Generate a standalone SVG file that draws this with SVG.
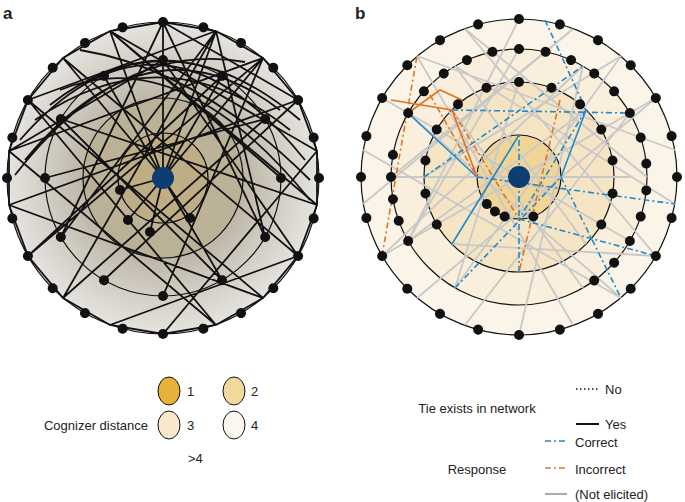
<svg xmlns="http://www.w3.org/2000/svg" width="685" height="502" viewBox="0 0 685 502">
<style>
text{font-family:"Liberation Sans",Arial,sans-serif;font-size:13px;fill:#222}
.lab{font-weight:bold;font-size:17px}
.ring{stroke:#111;stroke-width:1.2}
path,line{fill:none}
.ea{stroke:#111;stroke-width:1.8}
.g{stroke:#c8c8c8;stroke-width:1.8}
.bd{stroke:#1f8ac9;stroke-width:1.6;stroke-dasharray:6 3 2 3}
.od{stroke:#e2721f;stroke-width:1.6;stroke-dasharray:6 3 2 3}
.bs{stroke:#1f8ac9;stroke-width:1.6}
.os{stroke:#e2721f;stroke-width:1.6}
.d{fill:#111}
</style>
<defs>
<radialGradient id="ga" cx="50%" cy="50%" r="50%">
<stop offset="0" stop-color="#c9bc9b"/><stop offset="0.5" stop-color="#bdb6a6"/><stop offset="1" stop-color="#e6e4e0"/>
</radialGradient>
<circle id="dt" r="5" class="d"/>
</defs>
<text class="lab" x="3" y="19">a</text>
<text class="lab" x="355" y="19">b</text>
<g id="panel-a">
<circle cx="163" cy="178" r="156" fill="url(#ga)" class="ring"/>
<circle cx="163" cy="178" r="118" fill="none" class="ring"/>
<circle cx="163" cy="178" r="80" fill="#b8ab8a" fill-opacity="0.5" class="ring"/>
<circle cx="163" cy="178" r="45" fill="#c0a76e" fill-opacity="0.4" class="ring"/>
</g>
<g id="edges-a">
<path class="ea" d="M163 22L298 100M216 31L28 100M263 58L9 151M110 31L317 151M63 58L298 256M163 22L61 237M216 31L265 237M28 100L263 298M9 151L216 325M9 205L298 100M28 256L263 58M63 298L216 31M110 325L298 256M163 334L317 151M216 325L28 100M263 298L9 205M298 256L63 58M317 205L110 31M163 60L9 151M222 76L28 256M265 119L63 298M281 178L110 31M265 237L163 22M222 280L61 119M163 296L263 58M104 280L298 100M61 237L216 31M45 178L265 119M61 119L317 205M104 76L222 280M163 60L298 256M163 178L163 22M163 178L110 31M163 178L216 31M163 178L263 58M163 178L63 58M163 178L104 76M163 178L222 76M163 178L128 220M163 178L190 218M163 178L150 232M163 178L120 190M163 22L216 31L263 58L298 100L317 151L317 205L298 256L263 298L216 325L163 334L110 325L63 298L28 256L9 205L9 151L28 100L63 58L110 31Z"/>
<path class="ea" d="M20 140Q160 -20 305 160M35 120Q165 30 290 130M50 105Q170 10 300 120M15 175Q120 40 245 62M80 50Q200 70 310 180M25 160Q150 10 280 110M60 90Q180 40 310 200"/>
</g>
<g id="nodes-a">
<g transform="translate(163 178)">
<use href="#dt" y="-156"/><use href="#dt" y="-156" transform="rotate(15)"/><use href="#dt" y="-156" transform="rotate(30)"/><use href="#dt" y="-156" transform="rotate(45)"/><use href="#dt" y="-156" transform="rotate(60)"/><use href="#dt" y="-156" transform="rotate(75)"/><use href="#dt" y="-156" transform="rotate(90)"/><use href="#dt" y="-156" transform="rotate(105)"/><use href="#dt" y="-156" transform="rotate(120)"/><use href="#dt" y="-156" transform="rotate(135)"/><use href="#dt" y="-156" transform="rotate(150)"/><use href="#dt" y="-156" transform="rotate(165)"/><use href="#dt" y="-156" transform="rotate(180)"/><use href="#dt" y="-156" transform="rotate(195)"/><use href="#dt" y="-156" transform="rotate(210)"/><use href="#dt" y="-156" transform="rotate(225)"/><use href="#dt" y="-156" transform="rotate(240)"/><use href="#dt" y="-156" transform="rotate(255)"/><use href="#dt" y="-156" transform="rotate(270)"/><use href="#dt" y="-156" transform="rotate(285)"/><use href="#dt" y="-156" transform="rotate(300)"/><use href="#dt" y="-156" transform="rotate(315)"/><use href="#dt" y="-156" transform="rotate(330)"/><use href="#dt" y="-156" transform="rotate(345)"/>
<use href="#dt" y="-118"/><use href="#dt" y="-118" transform="rotate(30)"/><use href="#dt" y="-118" transform="rotate(60)"/><use href="#dt" y="-118" transform="rotate(90)"/><use href="#dt" y="-118" transform="rotate(120)"/><use href="#dt" y="-118" transform="rotate(150)"/><use href="#dt" y="-118" transform="rotate(180)"/><use href="#dt" y="-118" transform="rotate(210)"/><use href="#dt" y="-118" transform="rotate(240)"/><use href="#dt" y="-118" transform="rotate(270)"/><use href="#dt" y="-118" transform="rotate(300)"/><use href="#dt" y="-118" transform="rotate(330)"/>
<use href="#dt" x="-35" y="42"/><use href="#dt" x="27" y="40"/><use href="#dt" x="-13" y="54"/><use href="#dt" x="-43" y="12"/>
</g>
<circle cx="163" cy="178" r="11" fill="#0d3d73"/>
</g>
<g id="panel-b">
<circle cx="519" cy="177" r="158" fill="#fbf4e9" class="ring"/>
<circle cx="519" cy="177" r="128" fill="#f9efdc" class="ring"/>
<circle cx="519" cy="177" r="95" fill="#f6e5c4" class="ring"/>
<circle cx="519" cy="177" r="42" fill="#f1d597" class="ring"/>
</g>
<g id="edges-b">
<path class="g" d="M519 19L408 241M573 29L391 177M621 56L455 288M656 98L382 256M675 150L417 56M675 204L455 66M656 256L465 29M621 298L408 113M573 325L417 56M519 335L583 66M465 325L630 113M417 298L656 98M382 256L583 66M363 204L573 29M363 150L621 298M382 98L630 241M465 29L647 177M519 49L408 241M455 66L586 244M583 288L452 110M630 177L391 177M519 82L455 288M586 110L408 241M424 177L621 56M452 244L656 256"/>
<path class="bd" d="M545 20L586 110M586 110L519 219M519 219L656 256M561 177L621 298M477 177L675 204M519 272L519 135M452 110L630 113M424 177L583 66M455 288L561 177"/>
<path class="od" d="M382 256L417 56M430 95L477 177M452 110L519 219M560 100L519 272"/>
<path class="bs" d="M452 244L519 135M586 110L561 177M477 177L408 113"/>
<path class="os" d="M391 100L452 110L477 177M408 113L440 90L462 100"/>
</g>
<g id="nodes-b">
<g transform="translate(519 177)">
<use href="#dt" y="-158"/><use href="#dt" y="-158" transform="rotate(15)"/><use href="#dt" y="-158" transform="rotate(30)"/><use href="#dt" y="-158" transform="rotate(45)"/><use href="#dt" y="-158" transform="rotate(60)"/><use href="#dt" y="-158" transform="rotate(75)"/><use href="#dt" y="-158" transform="rotate(90)"/><use href="#dt" y="-158" transform="rotate(105)"/><use href="#dt" y="-158" transform="rotate(120)"/><use href="#dt" y="-158" transform="rotate(135)"/><use href="#dt" y="-158" transform="rotate(150)"/><use href="#dt" y="-158" transform="rotate(165)"/><use href="#dt" y="-158" transform="rotate(180)"/><use href="#dt" y="-158" transform="rotate(195)"/><use href="#dt" y="-158" transform="rotate(210)"/><use href="#dt" y="-158" transform="rotate(225)"/><use href="#dt" y="-158" transform="rotate(240)"/><use href="#dt" y="-158" transform="rotate(255)"/><use href="#dt" y="-158" transform="rotate(270)"/><use href="#dt" y="-158" transform="rotate(285)"/><use href="#dt" y="-158" transform="rotate(300)"/><use href="#dt" y="-158" transform="rotate(315)"/><use href="#dt" y="-158" transform="rotate(330)"/><use href="#dt" y="-158" transform="rotate(345)"/>
<use href="#dt" y="-128"/><use href="#dt" y="-128" transform="rotate(12)"/><use href="#dt" y="-128" transform="rotate(24)"/><use href="#dt" y="-128" transform="rotate(36)"/><use href="#dt" y="-128" transform="rotate(48)"/><use href="#dt" y="-128" transform="rotate(60)"/><use href="#dt" y="-128" transform="rotate(72)"/><use href="#dt" y="-128" transform="rotate(84)"/><use href="#dt" y="-128" transform="rotate(96)"/><use href="#dt" y="-128" transform="rotate(108)"/><use href="#dt" y="-128" transform="rotate(120)"/><use href="#dt" y="-128" transform="rotate(132)"/><use href="#dt" y="-128" transform="rotate(144)"/><use href="#dt" y="-128" transform="rotate(240)"/><use href="#dt" y="-128" transform="rotate(250)"/><use href="#dt" y="-128" transform="rotate(260)"/><use href="#dt" y="-128" transform="rotate(270)"/><use href="#dt" y="-128" transform="rotate(280)"/><use href="#dt" y="-128" transform="rotate(300)"/><use href="#dt" y="-128" transform="rotate(312)"/><use href="#dt" y="-128" transform="rotate(324)"/><use href="#dt" y="-128" transform="rotate(336)"/><use href="#dt" y="-128" transform="rotate(348)"/>
<use href="#dt" y="-95"/><use href="#dt" y="-95" transform="rotate(20)"/><use href="#dt" y="-95" transform="rotate(40)"/><use href="#dt" y="-95" transform="rotate(60)"/><use href="#dt" y="-95" transform="rotate(80)"/><use href="#dt" y="-95" transform="rotate(100)"/><use href="#dt" y="-95" transform="rotate(120)"/><use href="#dt" y="-95" transform="rotate(240)"/><use href="#dt" y="-95" transform="rotate(260)"/><use href="#dt" y="-95" transform="rotate(280)"/><use href="#dt" y="-95" transform="rotate(300)"/><use href="#dt" y="-95" transform="rotate(320)"/><use href="#dt" y="-95" transform="rotate(340)"/>
<use href="#dt" y="-42" transform="rotate(200)"/><use href="#dt" y="-42" transform="rotate(215)"/><use href="#dt" y="-42" transform="rotate(230)"/><use href="#dt" y="-42" transform="rotate(160)"/>
</g>
<circle cx="519" cy="177" r="11" fill="#0d3d73"/>
</g>
<g id="legend-a">
<ellipse cx="169" cy="391" rx="11" ry="14" fill="#e8b23a" stroke="#111"/>
<ellipse cx="234" cy="391" rx="11" ry="14" fill="#f3d89b" stroke="#111"/>
<ellipse cx="169" cy="425" rx="11" ry="14" fill="#f8e8cc" stroke="#111"/>
<ellipse cx="234" cy="425" rx="11" ry="14" fill="#fcf7ee" stroke="#111"/>
<text x="187" y="396">1</text><text x="251" y="396">2</text>
<text x="187" y="430">3</text><text x="251" y="430">4</text>
<text x="148" y="430" text-anchor="end">Cognizer distance</text>
<text x="188" y="463">&gt;4</text>
</g>
<g id="legend-b">
<text x="477" y="413" text-anchor="middle">Tie exists in network</text>
<line x1="576" y1="389" x2="600" y2="389" stroke="#111" stroke-width="1.6" stroke-dasharray="1.5 2.5"/>
<text x="605" y="394">No</text>
<line x1="576" y1="424" x2="599" y2="424" stroke="#111" stroke-width="2"/>
<text x="605" y="429">Yes</text>
<text x="477" y="474" text-anchor="middle">Response</text>
<line x1="545" y1="441" x2="567" y2="441" class="bd"/>
<text x="575" y="447">Correct</text>
<line x1="545" y1="468" x2="567" y2="468" class="od"/>
<text x="575" y="474">Incorrect</text>
<line x1="545" y1="494" x2="567" y2="494" stroke="#aaa" stroke-width="2"/>
<text x="575" y="499">(Not elicited)</text>
</g>
</svg>
